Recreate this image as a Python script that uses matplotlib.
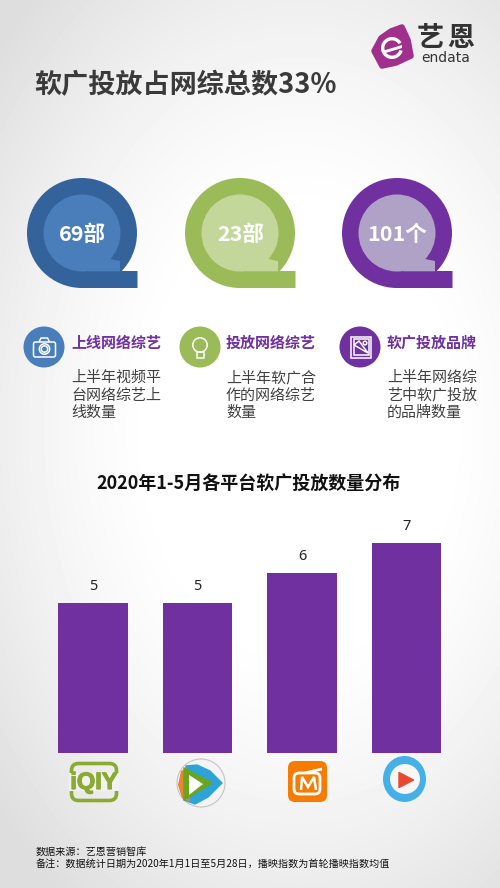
import numpy as np
import matplotlib
matplotlib.use("Agg")
import matplotlib.pyplot as plt
import matplotlib.patheffects as pe
from matplotlib.patches import Circle, Rectangle, FancyBboxPatch, Polygon, Ellipse, Wedge

plt.rcParams['font.family'] = ['Noto Sans CJK SC', 'DejaVu Sans']

TITLE = "软广投放占网综总数33%"
CHART_TITLE = "2020年1-5月各平台软广投放数量分布"
platforms = ["爱奇艺", "腾讯视频", "芒果TV", "优酷"]
counts = [5, 5, 6, 7]
stat_labels = ["69部", "23部", "101个"]
stat_heads = ["上线网络综艺", "投放网络综艺", "软广投放品牌"]
stat_bodies = ["上半年视频平\n台网络综艺上\n线数量", "上半年软广合\n作的网络综艺\n数量", "上半年网络综\n艺中软广投放\n的品牌数量"]
stat_outer = ["#34629b", "#9bbb59", "#7030a0"]
stat_inner = ["#4a7ebb", "#c4d79b", "#b0a2c6"]
icon_col = ["#4a7ebb", "#9bbb59", "#7030a0"]
notes = ["数据来源：艺恩营销智库", "备注：数据统计日期为2020年1月1日至5月28日，播映指数为首轮播映指数均值"]

W, H = 500, 888
fig = plt.figure(figsize=(5, 8.88), dpi=100)
bg = fig.add_axes([0, 0, 1, 1])
bg.set_xlim(0, W); bg.set_ylim(H, 0); bg.axis('off')

# soft vignette background
yy, xx = np.mgrid[0:H:222j, 0:W:125j]
d = np.sqrt(((xx - 300) / 400) ** 2 + ((yy - 430) / 580) ** 2)
shade = np.clip(1.0 - 0.13 * np.clip((d - 0.35) / 0.65, 0, 1) ** 1.4, 0, 1)
bg.imshow(shade, extent=[0, W, H, 0], cmap='gray', vmin=0, vmax=1, aspect='auto', zorder=0, interpolation='bilinear')

bg.text(34, 85, TITLE, fontsize=19.5, fontweight='bold', color='#3a3a3a', va='center', ha='left')

# stat badges
for cx, lab, oc, ic in zip([82, 240, 397], stat_labels, stat_outer, stat_inner):
    cy = 233
    bg.add_patch(Circle((cx, cy), 55, fc=oc, ec='none', zorder=2))
    bg.add_patch(Polygon([(cx, cy + 55), (cx + 55.5, cy + 55), (cx + 55.5, cy + 38), (cx + 38, cy + 38), (cx + 20, cy + 30)],
                         fc=oc, ec='none', zorder=2))
    bg.add_patch(Circle((cx, cy), 38.5, fc=ic, ec='none', zorder=3))
    bg.add_patch(Polygon([(cx + 6, cy + 38.3), (cx + 38, cy + 38.3), (cx + 38, cy + 28), (cx + 28, cy + 26), (cx + 18, cy + 18)],
                         fc=ic, ec='none', zorder=3))
    bg.text(cx + 0.5, cy + 1, lab, fontsize=15.5, fontweight='bold', color='white', ha='center', va='center', zorder=4)

# stat captions
for cx, tx, head, body, c in zip([44, 200, 360], [71, 226, 387], stat_heads, stat_bodies, icon_col):
    bg.add_patch(Circle((cx, 347), 20.5, fc=c, ec='none', zorder=2))
    bg.text(tx, 343, head, fontsize=10.8, fontweight='bold', color='#7030a0', ha='left', va='center')
    for i, line in enumerate(body.split("\n")):
        bg.text(tx, 378 + i * 17.5, line, fontsize=10.8, color='#404040', ha='left', va='center')

# icons
w = dict(fc='none', ec='white', lw=1.1, zorder=4)
bg.add_patch(FancyBboxPatch((33.5, 342), 22, 15, boxstyle="round,pad=0,rounding_size=2", **w))
bg.add_patch(Polygon([(39, 342), (41, 338), (47.5, 338), (49.5, 342)], closed=False, **w))
bg.add_patch(Circle((44.5, 349), 5.2, **w))
bg.add_patch(Circle((44.5, 349), 3.2, **w))
bg.add_patch(Circle((200, 345), 7.2, **w))
bg.add_patch(Rectangle((196.5, 352), 7, 6, **w))
bg.add_patch(Rectangle((351, 336.5), 20, 21, **w))
bg.add_patch(Rectangle((353.5, 339), 15, 16, **w))
bg.add_patch(Polygon([(354, 345), (359, 341), (368, 353)], **w))
bg.add_patch(Circle((365, 343), 1.8, **w))

# logo
bg.add_patch(Polygon([(374, 51), (381, 38), (391, 31), (402, 27), (408, 40), (411, 56), (396, 63), (382, 66)],
                     fc='#a0308c', ec='#a0308c', lw=4, joinstyle='round', zorder=2))
bg.add_patch(Wedge((392, 48), 11, 15, 330, width=3.4, fc='white', ec='none', zorder=3))
bg.add_patch(Polygon([(384, 50.5), (402, 45), (402, 48), (384, 53.5)], fc='white', ec='none', zorder=3))
bg.text(430, 38, "艺", fontsize=19.5, fontweight='bold', color='#333333', ha='center', va='center')
bg.text(461, 38, "恩", fontsize=19.5, fontweight='bold', color='#333333', ha='center', va='center')
bg.text(445.5, 58.5, "endata", fontsize=10, color='#333333', ha='center', va='center', family=['DejaVu Sans'])

bg.text(249, 484, CHART_TITLE, fontsize=13, fontweight='bold', color='#111111', ha='center', va='center')

# bar chart
left, right = 40.7, 458.8
top, bottom = 500.0, 752.5
ax = fig.add_axes([left / W, 1 - bottom / H, (right - left) / W, (bottom - top) / H])
ax.patch.set_alpha(0)
ax.set_xlim(-0.5, 3.5)
ax.set_ylim(0, (bottom - top) / 29.9)
x = np.arange(len(counts))
bars = ax.bar(x, counts, width=0.665, color='#7030a0')
for xi, v in zip(x, counts):
    ax.annotate(str(v), (xi, v), xytext=(0, 6.5), textcoords='offset points', ha='center', va='bottom', fontsize=10.5, color='#222222', family=['Noto Sans'])
ax.set_xticks([]); ax.set_yticks([])
for s in ax.spines.values():
    s.set_visible(False)

# platform logos
bg.add_patch(FancyBboxPatch((71.5, 763.5), 45, 37, boxstyle="round,pad=0,rounding_size=7", fc='none', ec='#8aaa32', lw=2.6, zorder=3))
bg.add_patch(Rectangle((69, 773), 50, 18, fc='#f2f2f2', ec='none', zorder=3.5))
bg.text(94, 782.5, "iQIY", fontsize=17, fontweight='bold', color='#8aaa32', ha='center', va='center', zorder=4,
        family=['Liberation Sans'], path_effects=[pe.withStroke(linewidth=0.9, foreground='#8aaa32')])

bg.add_patch(Circle((201, 783), 24, fc='#f4f4f4', ec='#c4c4c4', lw=0.8, zorder=2))
bg.add_patch(Polygon([(186, 766), (197, 765), (210, 771), (222, 783), (208, 797), (195, 804), (184, 800)], fc='#2ea3d8', ec='#2ea3d8', lw=1, joinstyle='round', zorder=3))
bg.add_patch(Polygon([(181, 771), (187, 768), (190, 802), (182, 798), (178, 785)], fc='#e8833a', ec='none', zorder=4))
bg.add_patch(Polygon([(184, 768), (212, 783), (184, 800)], fc='#6aa51c', ec='#6aa51c', lw=1, joinstyle='round', zorder=4))
bg.add_patch(Polygon([(189, 775), (203, 784), (189, 795)], fc='white', ec='none', zorder=5))

bg.add_patch(FancyBboxPatch((288, 761), 39, 41, boxstyle="round,pad=0,rounding_size=7", fc='#f57c00', ec='none', zorder=3))
bg.add_patch(FancyBboxPatch((294, 773), 26, 21, boxstyle="round,pad=0,rounding_size=5", fc='none', ec='white', lw=2, zorder=4))
bg.add_patch(Polygon([(301, 790), (302, 777), (308, 787), (314, 777), (316, 790)], closed=False, fc='none', ec='white', lw=1.8, zorder=4))
bg.add_patch(Polygon([(305, 773), (322, 769)], closed=False, fc='none', ec='white', lw=2, zorder=4))

bg.add_patch(Ellipse((404.5, 779), 43, 46, fc='#45b0e8', ec='none', zorder=3))
bg.add_patch(Circle((405, 779), 15, fc='#f6f6f6', ec='none', zorder=4))
bg.add_patch(Polygon([(399, 772.5), (413.5, 780), (399, 787.5)], fc='#e8492e', ec='#e8492e', lw=1, joinstyle='round', zorder=5))

# footnotes
bg.text(36, 852, notes[0], fontsize=7.25, color='#111111', ha='left', va='center')
bg.text(36, 863.5, notes[1], fontsize=7.25, color='#111111', ha='left', va='center')

fig.savefig("out.png", dpi=100)
